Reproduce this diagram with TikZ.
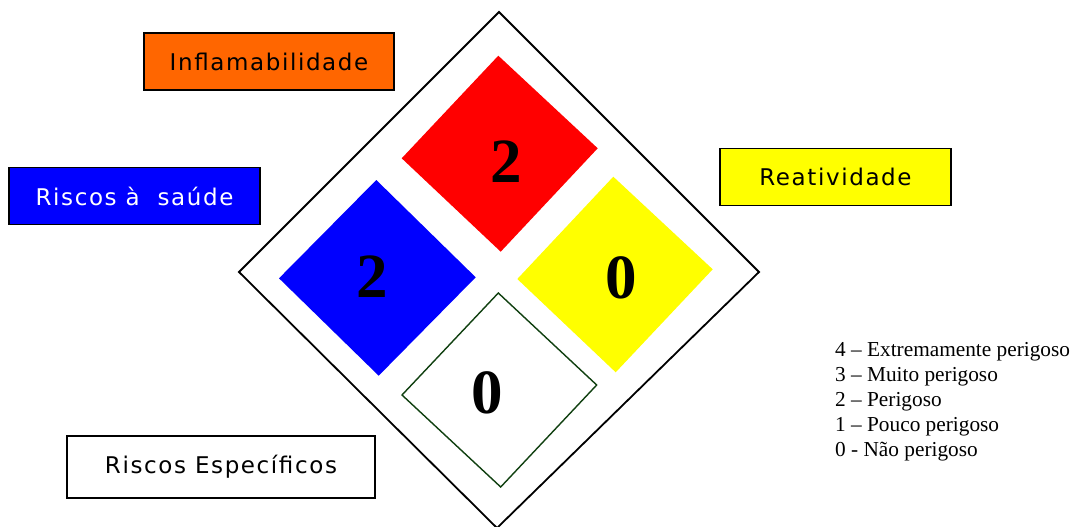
\documentclass[tikz,border=0pt]{standalone}
\usepackage{fontspec}
\setmainfont{Liberation Serif}
\newfontfamily\boxfont[LetterSpace=7]{DejaVu Sans}
\definecolor{nfpaorange}{RGB}{255,102,0}
\definecolor{nfpared}{RGB}{255,0,0}
\definecolor{nfpablue}{RGB}{0,0,255}
\definecolor{nfpayellow}{RGB}{255,255,0}
\definecolor{nfpagreen}{RGB}{16,64,16}
\begin{document}
\begin{tikzpicture}[x=1pt,y=-1pt,
  labelbox/.style={draw=black,line width=1.8pt,minimum width=#1,minimum height=57pt,inner sep=0pt,font=\boxfont\fontsize{23}{26}\selectfont},
  digit/.style={inner sep=0pt,font=\bfseries\fontsize{63}{63}\selectfont},
  legend/.style={inner sep=0pt,anchor=base west,align=left,font=\fontsize{21.3}{24.8}\selectfont}]
\useasboundingbox (0,0) rectangle (1072,527);
\fill[white] (0,0) rectangle (1072,527);
% outer diamond
\draw[line width=1.8pt,line join=miter] (499,12) -- (759,272) -- (497,528) -- (239,272) -- cycle;
% inner diamonds
\fill[nfpared] (498.3,55.7) -- (597.7,148.3) -- (500.7,251.7) -- (401.7,158.3) -- cycle;
\fill[nfpablue] (376.3,180) -- (475.7,277.3) -- (378.7,375.7) -- (279,278.3) -- cycle;
\fill[nfpayellow] (613.3,176.7) -- (712.7,269.3) -- (615.7,372.3) -- (517.3,279) -- cycle;
\draw[nfpagreen,line width=1.4pt] (498.3,293) -- (596.7,385) -- (500.7,487) -- (402,395) -- cycle;
% digits
\node[digit] (dred) at (506,162) {2};
\node[digit] (dblue) at (372,277) {2};
\node[digit] (dyellow) at (621,278) {0};
\node[digit] (dwhite) at (487,393) {0};
% label boxes
\node[labelbox=250pt,fill=nfpaorange] (flam) at (269,61.5) {Inflamabilidade};
\node[labelbox=251pt,fill=nfpablue,text=white] (saude) at (134.5,196) {Riscos à\ \ saúde};
\node[labelbox=231pt,fill=nfpayellow] (reat) at (835.5,177) {Reatividade};
\node[labelbox=308pt,fill=white,minimum height=62pt] (espec) at (221,467) {Riscos Específicos};
% legend
\node[legend] (leg) at (835,456) {4 – Extremamente perigoso\\3 – Muito perigoso\\2 – Perigoso\\1 – Pouco perigoso\\0 - Não perigoso};
\end{tikzpicture}
\end{document}
